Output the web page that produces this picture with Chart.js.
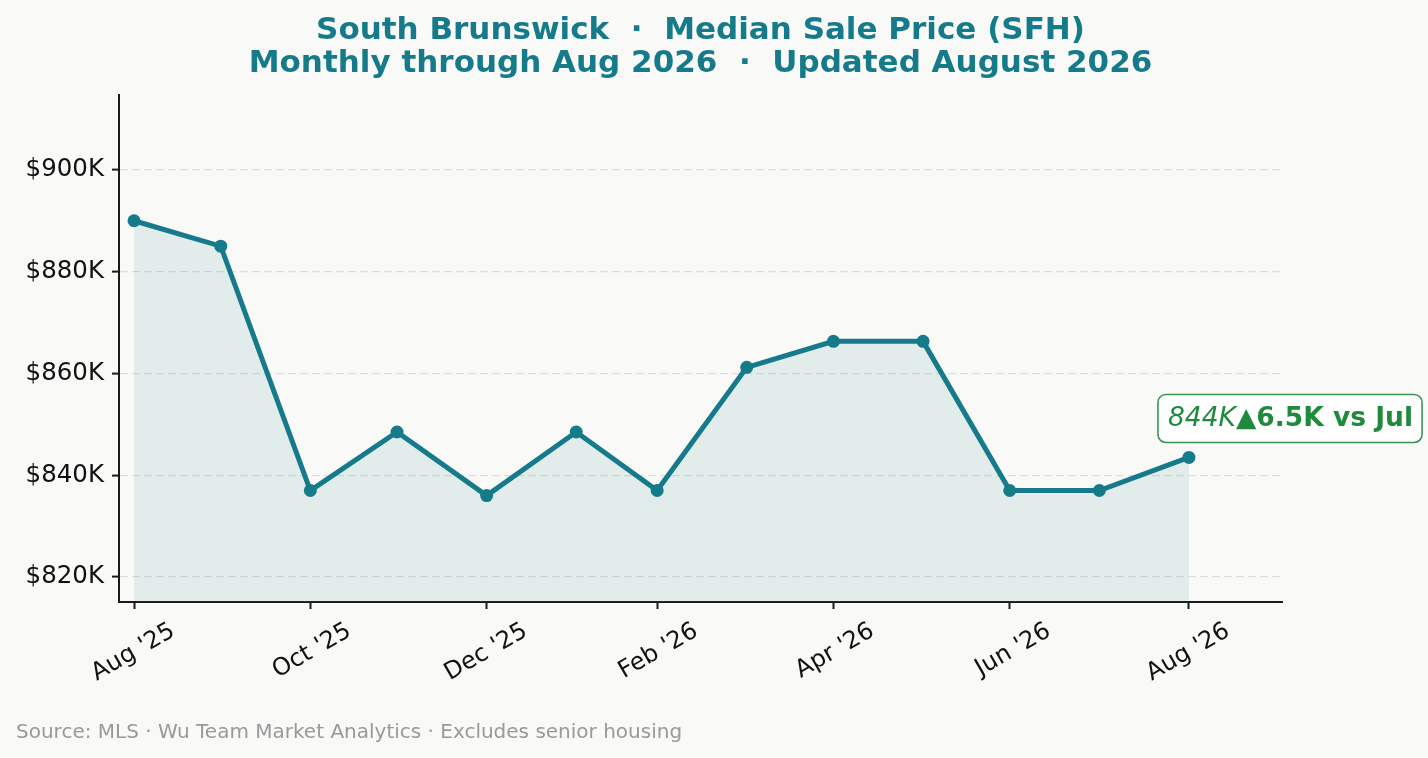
<!DOCTYPE html>
<html><head><meta charset="utf-8">
<script src="https://cdn.jsdelivr.net/npm/chart.js@4.4.0/dist/chart.umd.min.js"></script>
<style>html,body{margin:0;padding:0;background:#f9f9f7;}#wrap{width:1428px;height:758px;position:relative;}</style>
</head><body><div id="wrap"><canvas id="c"></canvas></div>
<script>
// ---- data ----
const monthEnds = ['2025-08-31','2025-09-30','2025-10-31','2025-11-30','2025-12-31','2026-01-31','2026-02-28','2026-03-31','2026-04-30','2026-05-31','2026-06-30','2026-07-31','2026-08-31'];
const monthNames = ['Aug','Sep','Oct','Nov','Dec','Jan','Feb','Mar','Apr','May','Jun','Jul','Aug'];
const medianPriceK = [890, 885, 837, 848.5, 836, 848.5, 837, 861.2, 866.3, 866.3, 837, 837, 843.5];
const xTickDates = ['2025-08-31','2025-10-31','2025-12-31','2026-02-28','2026-04-30','2026-06-30','2026-08-31'];
const xTickLabels = ["Aug '25","Oct '25","Dec '25","Feb '26","Apr '26","Jun '26","Aug '26"];
const yTicksK = [820, 840, 860, 880, 900];
const titleLines = ['South Brunswick  \u00b7  Median Sale Price (SFH)', 'Monthly through Aug 2026  \u00b7  Updated August 2026'];
const sourceNote = 'Source: MLS \u00b7 Wu Team Market Analytics \u00b7 Excludes senior housing';

// ---- helpers ----
const DAY = 86400000;
const t0 = Date.parse(monthEnds[0]);
const dayOf = s => (Date.parse(s) - t0) / DAY;
const points = monthEnds.map((d, i) => ({x: dayOf(d), y: medianPriceK[i]}));
const FONT = "'DejaVu Sans', sans-serif";
const TEAL = '#157b8a';
const GREEN = '#1f8a3c';

const bgPlugin = {
  id: 'bg',
  beforeDraw(chart) {
    const ctx = chart.ctx;
    ctx.save();
    ctx.fillStyle = '#f9f9f7';
    ctx.fillRect(0, 0, chart.width, chart.height);
    ctx.restore();
  }
};

const textPlugin = {
  id: 'texts',
  afterDraw(chart) {
    const ctx = chart.ctx;
    const ca = chart.chartArea;
    ctx.save();
    // title
    ctx.fillStyle = TEAL;
    ctx.font = 'bold 31px ' + FONT;
    ctx.textAlign = 'center';
    ctx.textBaseline = 'alphabetic';
    const cx = (ca.left + ca.right) / 2;
    ctx.fillText(titleLines[0], cx, 39);
    ctx.fillText(titleLines[1], cx, 72);
    // footnote
    ctx.fillStyle = '#999999';
    ctx.font = '20px ' + FONT;
    ctx.textAlign = 'left';
    ctx.fillText(sourceNote, 16, 738);
    // annotation on last point
    const n = medianPriceK.length;
    const meta = chart.getDatasetMeta(0);
    const last = meta.data[n - 1];
    const diff = medianPriceK[n - 1] - medianPriceK[n - 2];
    const part1 = Math.round(medianPriceK[n - 1]) + 'K';
    const part2 = (diff >= 0 ? '\u25b2' : '\u25bc') + Math.abs(diff).toFixed(1) + 'K vs ' + monthNames[n - 2];
    const f1 = 'italic 26.5px ' + FONT;
    const f2 = 'bold 26.5px ' + FONT;
    ctx.font = f1; const w1 = ctx.measureText(part1).width;
    ctx.font = f2; const w2 = ctx.measureText(part2).width;
    const tx = last.x - 21;
    const by = last.y - 31;
    const bx0 = tx - 10, bx1 = tx + w1 + w2 + 9;
    const byTop = by - 32, byBot = by + 16;
    ctx.beginPath();
    ctx.roundRect(bx0, byTop, bx1 - bx0, byBot - byTop, 8);
    ctx.fillStyle = 'rgba(255,255,255,0.92)';
    ctx.fill();
    ctx.lineWidth = 1.6;
    ctx.strokeStyle = '#3a9457';
    ctx.stroke();
    ctx.fillStyle = GREEN;
    ctx.font = f1; ctx.fillText(part1, tx, by);
    ctx.font = f2; ctx.fillText(part2, tx + w1, by);
    ctx.restore();
  }
};

new Chart(document.getElementById('c'), {
  type: 'line',
  data: {
    datasets: [{
      data: points,
      borderColor: TEAL,
      borderWidth: 5,
      pointRadius: 6.5,
      pointHoverRadius: 6.5,
      pointBackgroundColor: TEAL,
      pointBorderWidth: 0,
      tension: 0,
      fill: 'start',
      backgroundColor: 'rgba(21,123,138,0.10)'
    }]
  },
  options: {
    responsive: true,
    maintainAspectRatio: false,
    animation: false,
    layout: {padding: {top: 95, right: 146, left: 0, bottom: 0}},
    plugins: {legend: {display: false}, title: {display: false}, tooltip: {enabled: false}},
    scales: {
      x: {
        type: 'linear',
        min: -5.2,
        max: 397.2,
        afterBuildTicks(scale) { scale.ticks = xTickDates.map(d => ({value: dayOf(d)})); },
        afterFit(scale) { scale.height = 156; },
        grid: {drawOnChartArea: false, drawTicks: true, tickLength: 7, tickColor: '#1a1a1a', tickWidth: 2},
        border: {display: true, color: '#1a1a1a', width: 2},
        ticks: {
          autoSkip: false,
          maxRotation: 30,
          minRotation: 30,
          padding: 8,
          labelOffset: 39,
          color: '#111',
          font: {family: FONT, size: 24},
          callback: (v, i) => xTickLabels[i]
        }
      },
      y: {
        type: 'linear',
        min: 815.1,
        max: 914.7,
        afterBuildTicks(scale) { scale.ticks = yTicksK.map(v => ({value: v})); },
        afterFit(scale) { scale.width = 119; },
        grid: {color: '#dedede', lineWidth: 1.2, drawTicks: true, tickLength: 7, tickColor: '#1a1a1a', tickWidth: 2, tickBorderDash: []},
        border: {display: true, color: '#1a1a1a', width: 2, dash: [8, 4]},
        ticks: {
          padding: 8,
          color: '#111',
          font: {family: FONT, size: 24.5},
          callback: v => '$' + v + 'K'
        }
      }
    }
  },
  plugins: [bgPlugin, textPlugin]
});
</script>
</body></html>
